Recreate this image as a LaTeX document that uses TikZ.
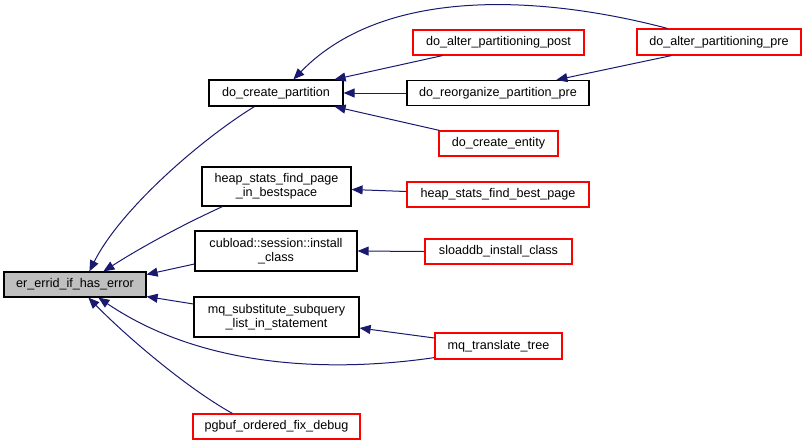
\documentclass[tikz,border=0pt]{standalone}
\usepackage{fontspec}
\setmainfont{Liberation Sans}
\usetikzlibrary{arrows.meta,calc}
\definecolor{edgeblue}{HTML}{191970}
\definecolor{boxred}{HTML}{FF0000}
\definecolor{boxgray}{HTML}{BFBFBF}
\begin{document}
\begin{tikzpicture}[x=1pt,y=-1pt,
  fn/.style={draw=black,line width=1.2pt,rectangle,inner sep=0pt,align=center,
    font=\fontsize{12.6}{13.6}\selectfont},
  redfn/.style={fn,draw=boxred},
  call/.style={draw=edgeblue,line width=1pt,
    -{Triangle[length=11pt,width=9pt,fill=edgeblue]}},
]
\useasboundingbox (0,0) rectangle (805,445);

\node[fn,fill=boxgray,minimum width=142,minimum height=25] (err) at (75,284.5) {er\_errid\_if\_has\_error};
\node[fn,minimum width=134,minimum height=26] (dcp) at (276,93) {do\_create\_partition};
\node[redfn,minimum width=171,minimum height=25] (dapost) at (498.5,42.5) {do\_alter\_partitioning\_post};
\node[redfn,minimum width=164,minimum height=26] (dapre) at (719,42) {do\_alter\_partitioning\_pre};
\node[fn,minimum width=182,minimum height=25] (dreorg) at (498,93) {do\_reorganize\_partition\_pre};
\node[redfn,minimum width=119,minimum height=25] (dcent) at (498.5,143.5) {do\_create\_entity};
\node[fn,minimum width=149,minimum height=39] (heappage) at (276.5,186.5) {heap\_stats\_find\_page\\\_in\_bestspace};
\node[redfn,minimum width=182,minimum height=25] (heapbest) at (498,194.5) {heap\_stats\_find\_best\_page};
\node[fn,minimum width=162,minimum height=40] (cub) at (276,251) {cubload::session::install\\\_class};
\node[redfn,minimum width=147,minimum height=25] (sload) at (498.5,251.5) {sloaddb\_install\_class};
\node[fn,minimum width=165,minimum height=40] (mqsub) at (276.5,317) {mq\_substitute\_subquery\\\_list\_in\_statement};
\node[redfn,minimum width=127,minimum height=26] (mqtr) at (498.5,346) {mq\_translate\_tree};
\node[redfn,minimum width=167,minimum height=25] (pgbuf) at (276.5,426.5) {pgbuf\_ordered\_fix\_debug};

% callers of er_errid_if_has_error
\draw[call] ($(dcp.south west)+(46,0)$) .. controls (200,140) and (120,210) .. ($(err.north west)+(86,0)$);
\draw[call] ($(heappage.south west)+(21,0)$) .. controls (180,226) and (140,248) .. ($(err.north west)+(100,0)$);
\draw[call] ($(cub.west)+(0,13)$) -- ($(err.east)+(0,-10)$);
\draw[call] ($(mqsub.west)+(0,-13)$) -- ($(err.east)+(0,12)$);
\draw[call] ($(mqtr.south west)+(0,-2)$) .. controls (370,367) and (220,380) .. ($(err.south west)+(95,0)$);
\draw[call] ($(pgbuf.north west)+(40,0)$) .. controls (190,390) and (130,340) .. ($(err.south west)+(85,0)$);

% callers of do_create_partition
\draw[call] ($(dapost.south west)+(30,0)$) -- ($(dcp.north east)+(-9,0)$);
\draw[call] ($(dapre.north west)+(31,0)$) .. controls (560,0) and (390,-20) .. ($(dcp.north west)+(85,0)$);
\draw[call] (dreorg.west) -- (dcp.east);
\draw[call] ($(dcent.north west)+(1,0)$) -- ($(dcp.south east)+(-9,0)$);
\draw[call] ($(dapre.south west)+(35,0)$) -- ($(dreorg.north west)+(150,0)$);

% other callers
\draw[call] ($(heapbest.west)+(0,-3)$) -- ($(heappage.east)+(0,3)$);
\draw[call] (sload.west) -- (cub.east);
\draw[call] ($(mqtr.west)+(0,-8)$) -- ($(mqsub.east)+(0,11)$);
\end{tikzpicture}
\end{document}
